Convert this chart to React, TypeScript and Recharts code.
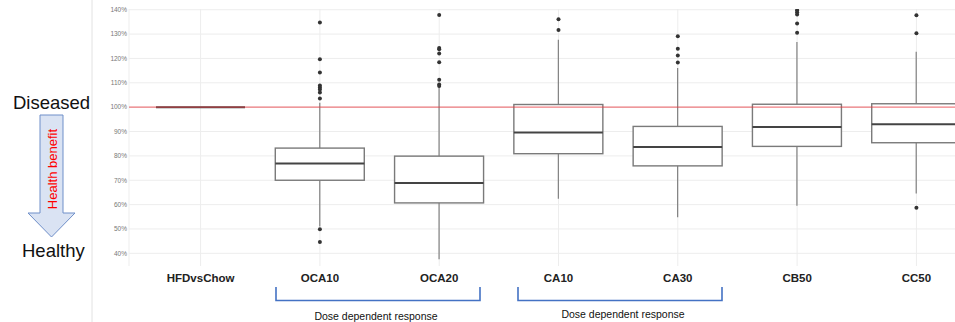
import { ComposedChart, Bar, Scatter, XAxis, YAxis, CartesianGrid, ReferenceLine } from 'recharts';

const categories = ['HFDvsChow', 'OCA10', 'OCA20', 'CA10', 'CA30', 'CB50', 'CC50'];
const whiskerLow = [100, 51, 37.6, 62.4, 54.8, 59.5, 64.6];
const q1 = [100, 70.0, 60.7, 80.9, 75.9, 83.9, 85.4];
const medians = [100, 76.9, 68.9, 89.6, 83.7, 91.9, 93.0];
const q3 = [100, 83.2, 79.9, 101.1, 92.1, 101.2, 101.4];
const whiskerHigh = [100, 101.8, 108.5, 127.7, 116.1, 126.8, 122.7];
const outliers = [
  [],
  [134.8, 119.7, 114.2, 108.9, 108.1, 107.3, 106.0, 103.6, 49.9, 44.7],
  [137.8, 124.3, 123.8, 122.0, 118.4, 111.3, 109.3, 108.7],
  [136.1, 131.7],
  [129.1, 124.0, 121.2, 118.3],
  [139.8, 139.0, 138.0, 134.3, 130.5],
  [137.7, 130.3, 58.7],
];
const yTicks = [40, 50, 60, 70, 80, 90, 100, 110, 120, 130, 140];
const gridValues = [35, 40, 45, 50, 55, 60, 65, 70, 75, 80, 85, 90, 95, 100, 105, 110, 115, 120, 125, 130, 135, 140];
const bracketLabel = 'Dose dependent response';

const rows = categories.map((name, i) => ({
  name,
  pos: i + 1,
  lo: whiskerLow[i],
  q1: q1[i],
  median: medians[i],
  q3: q3[i],
  hi: whiskerHigh[i],
}));
const outlierPoints = outliers.flatMap((vals, i) => vals.map((v) => ({ pos: i + 1, v })));

const font = '"Liberation Sans", Arial, sans-serif';
const BOX_W = 89;

const WhiskerShape = (p: any) => {
  const top = Math.min(p.y, p.y + p.height);
  const h = Math.abs(p.height);
  const cx = p.x + p.width / 2;
  return <line x1={cx} x2={cx} y1={top} y2={top + h} stroke="#808080" strokeWidth={1.2} />;
};

// box from q1..q3, median placed with the same pixel scale the bar got
const BoxShape = (p: any) => {
  const top = Math.min(p.y, p.y + p.height);
  const h = Math.abs(p.height);
  const d = p.payload;
  const span = d.q3 - d.q1;
  const my = span > 0 ? top + ((d.q3 - d.median) / span) * h : top;
  return (
    <g>
      <rect x={p.x} y={top} width={p.width} height={h} fill="#fff" stroke="#7a7a7a" strokeWidth={1.4} />
      <line x1={p.x} x2={p.x + p.width} y1={my} y2={my} stroke="#444" strokeWidth={2} />
    </g>
  );
};

const DotShape = (p: any) => (p.cy == null ? <g /> : <circle cx={p.cx} cy={p.cy} r={2} fill="#333" />);

export default function App() {
  return (
    <div style={{ position: 'absolute', left: 0, top: 0, width: 955, height: 322, overflow: 'hidden', background: '#fff' }}>
      <ComposedChart width={1000} height={322} data={rows} margin={{ top: 9, right: 12, bottom: 36, left: 89 }}>
        <CartesianGrid xAxisId="num" horizontalValues={gridValues} stroke="#ededed" />
        <XAxis
          xAxisId="num"
          type="number"
          dataKey="pos"
          domain={[0.4, 7.6]}
          ticks={[1, 2, 3, 4, 5, 6, 7]}
          interval={0}
          allowDataOverflow
          tickFormatter={(v) => categories[v - 1]}
          axisLine={false}
          tickLine={false}
          height={20}
          tick={{ fontSize: 11.5, fontWeight: 'bold', fill: '#222', fontFamily: font }}
        />
        <XAxis xAxisId="cat" dataKey="name" hide height={0} padding={{ left: 12, right: 12 }} />
        <XAxis xAxisId="cat2" dataKey="name" hide height={0} padding={{ left: 12, right: 12 }} />
        <YAxis
          type="number"
          domain={[34.8, 140.3]}
          ticks={yTicks}
          allowDataOverflow
          width={40}
          tickSize={0}
          tickMargin={2}
          axisLine={false}
          tickFormatter={(v) => `${v}%`}
          tick={{ fontSize: 6.5, fill: '#777', fontFamily: font }}
        />
        <Bar xAxisId="cat2" dataKey={(d: any) => [d.lo, d.hi]} barSize={BOX_W} shape={WhiskerShape} isAnimationActive={false} />
        <Bar xAxisId="cat" dataKey={(d: any) => [d.q1, d.q3]} barSize={BOX_W} shape={BoxShape} isAnimationActive={false} />
        <Scatter xAxisId="num" data={outlierPoints} dataKey="v" shape={DotShape} isAnimationActive={false} />
        <ReferenceLine xAxisId="num" y={100} stroke="#e8383d" strokeOpacity={0.65} strokeWidth={1.3} />
      </ComposedChart>
      <svg width={955} height={322} style={{ position: 'absolute', left: 0, top: 0, pointerEvents: 'none' }}>
        <line x1={92} x2={92} y1={0} y2={322} stroke="#e2e2e2" strokeWidth={1} />
        <text x={13} y={109} fontSize={18.5} fontFamily={font} fill="#111">Diseased</text>
        <text x={22} y={257} fontSize={18.5} fontFamily={font} fill="#111">Healthy</text>
        <polygon
          points="40,115 63,115 63,213 75,213 51.5,237 28,213 40,213"
          fill="#dae3f3"
          stroke="#6f8fc9"
          strokeWidth={1}
        />
        <text
          x={52}
          y={169}
          transform="rotate(-90 52 169)"
          textAnchor="middle"
          dominantBaseline="central"
          fontSize={13}
          fontFamily={font}
          fill="#ff0000"
        >
          Health benefit
        </text>
        <polyline points="276,287 276,300.5 480,300.5 480,287" fill="none" stroke="#4472c4" strokeWidth={1.6} />
        <polyline points="518,287 518,300.5 722,300.5 722,287" fill="none" stroke="#4472c4" strokeWidth={1.6} />
        <text x={376} y={320} textAnchor="middle" fontSize={10.5} fontFamily={font} fill="#111">{bracketLabel}</text>
        <text x={623} y={318} textAnchor="middle" fontSize={10.5} fontFamily={font} fill="#111">{bracketLabel}</text>
      </svg>
    </div>
  );
}
